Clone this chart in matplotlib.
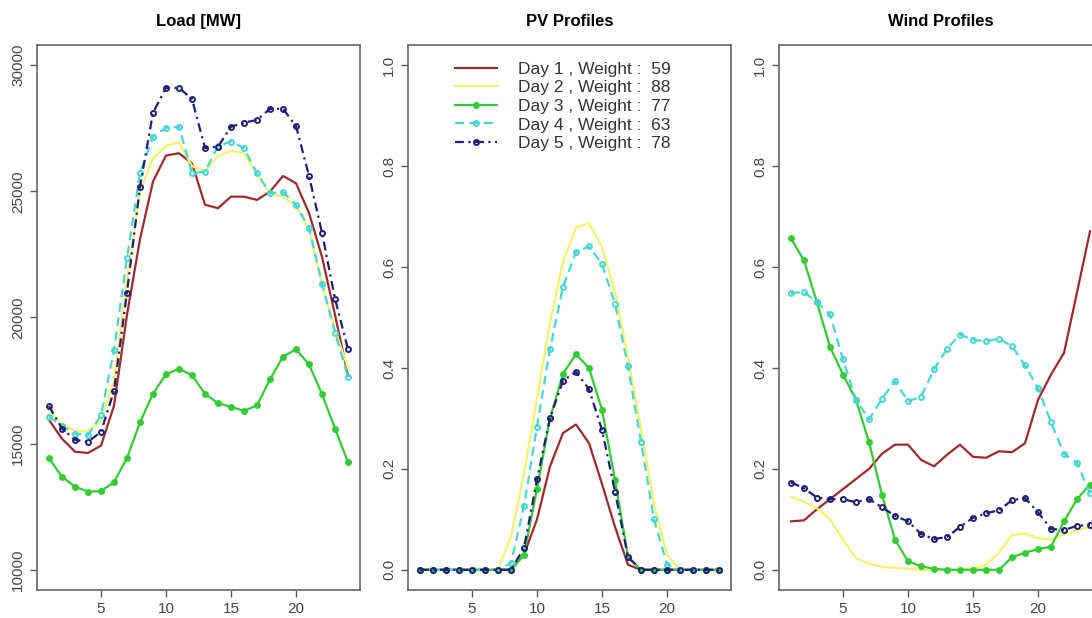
import numpy as np
import matplotlib.pyplot as plt

plt.rcParams['font.family'] = ['Liberation Sans', 'DejaVu Sans']

hours = np.arange(1, 25)
day_labels = ['Day 1 , Weight :  59', 'Day 2 , Weight :  88', 'Day 3 , Weight :  77',
              'Day 4 , Weight :  63', 'Day 5 , Weight :  78']

# Load [MW]
load_d1 = [15940, 15200, 14680, 14630, 14920, 16500, 20100, 23100, 25390, 26420, 26510, 26110,
           24470, 24330, 24790, 24790, 24660, 24990, 25610, 25320, 24140, 22400, 20100, 17700]
load_d2 = [16300, 15800, 15500, 15500, 15900, 17500, 21500, 25000, 26300, 26800, 26950, 26000,
           25800, 26400, 26600, 26500, 25700, 24900, 24800, 24400, 23500, 21300, 19500, 18000]
load_d3 = [14420, 13690, 13300, 13100, 13120, 13470, 14430, 15840, 16980, 17750, 17970, 17710,
           16980, 16600, 16460, 16300, 16520, 17550, 18450, 18740, 18140, 16960, 15600, 14260]
load_d4 = [16075, 15700, 15400, 15330, 16120, 18710, 22360, 25720, 27170, 27520, 27560, 25720,
           25780, 26800, 26970, 26710, 25720, 24930, 24970, 24470, 23550, 21340, 19400, 17650]
load_d5 = [16494, 15600, 15150, 15070, 15470, 17090, 20990, 25180, 28115, 29100, 29100, 28660,
           26720, 26770, 27560, 27720, 27830, 28270, 28270, 27590, 25610, 23350, 20740, 18735]

# PV profiles
pv_d1 = [0, 0, 0, 0, 0, 0, 0, 0, 0.03, 0.10, 0.205, 0.271, 0.288, 0.251, 0.17, 0.085,
         0.01, 0, 0, 0, 0, 0, 0, 0]
pv_d2 = [0, 0, 0, 0, 0, 0, 0, 0.066, 0.19, 0.34, 0.49, 0.61, 0.678, 0.687, 0.64, 0.55,
         0.42, 0.28, 0.13, 0.03, 0, 0, 0, 0]
pv_d3 = [0, 0, 0, 0, 0, 0, 0, 0, 0.03, 0.16, 0.30, 0.389, 0.427, 0.40, 0.317, 0.178,
         0.026, 0, 0, 0, 0, 0, 0, 0]
pv_d4 = [0, 0, 0, 0, 0, 0, 0, 0.013, 0.126, 0.284, 0.437, 0.561, 0.630, 0.641, 0.606, 0.527,
         0.403, 0.253, 0.10, 0.01, 0, 0, 0, 0]
pv_d5 = [0, 0, 0, 0, 0, 0, 0, 0, 0.043, 0.179, 0.301, 0.375, 0.392, 0.358, 0.277, 0.155,
         0.025, 0, 0, 0, 0, 0, 0, 0]

# Wind profiles
wind_d1 = [0.096, 0.098, 0.12, 0.14, 0.16, 0.18, 0.20, 0.23, 0.248, 0.248, 0.218, 0.205,
           0.228, 0.248, 0.224, 0.222, 0.235, 0.233, 0.251, 0.337, 0.387, 0.43, 0.55, 0.671]
wind_d2 = [0.145, 0.135, 0.122, 0.10, 0.06, 0.023, 0.012, 0.006, 0.004, 0.002, 0.0, 0.0,
           0.0, 0.0, 0.003, 0.01, 0.034, 0.069, 0.072, 0.063, 0.06, 0.07, 0.078, 0.085]
wind_d3 = [0.657, 0.613, 0.53, 0.442, 0.387, 0.337, 0.253, 0.149, 0.06, 0.017, 0.007, 0.002,
           0, 0, 0, 0, 0, 0.025, 0.034, 0.041, 0.046, 0.096, 0.14, 0.169]
wind_d4 = [0.548, 0.551, 0.53, 0.506, 0.417, 0.337, 0.298, 0.339, 0.374, 0.334, 0.343, 0.397,
           0.438, 0.466, 0.456, 0.453, 0.458, 0.443, 0.405, 0.36, 0.292, 0.23, 0.212, 0.152]
wind_d5 = [0.173, 0.162, 0.143, 0.14, 0.14, 0.134, 0.14, 0.124, 0.107, 0.096, 0.071, 0.061,
           0.065, 0.085, 0.103, 0.112, 0.118, 0.138, 0.142, 0.114, 0.081, 0.079, 0.087, 0.089]

colors = ['#a3282b', '#f5f26a', '#33cc33', '#45d6d6', '#1f1f7a']
styles = [dict(ls='-', marker=None),
          dict(ls='-', marker=None),
          dict(ls='-', marker='o', ms=4),
          dict(ls=(0, (4, 2.5)), marker='o', ms=3.6, mfc='none', mew=1.4),
          dict(ls=(0, (4, 2, 1, 2)), marker='o', ms=3.6, mfc='none', mew=1.4)]

fig = plt.figure(figsize=(10.92, 6.18), dpi=100)
W, H = 1092, 618
aw, ab, ah = 323 / W, 1 - 590 / H, 545 / H
lefts = [37 / W, 408 / W, 779 / W]
titles = ['Load [MW]', 'PV Profiles', 'Wind Profiles']
panels = [[load_d1, load_d2, load_d3, load_d4, load_d5],
          [pv_d1, pv_d2, pv_d3, pv_d4, pv_d5],
          [wind_d1, wind_d2, wind_d3, wind_d4, wind_d5]]

for i, (l, title, series) in enumerate(zip(lefts, titles, panels)):
    ax = fig.add_axes([l, ab, aw, ah])
    for ys, c, st, lab in zip(series, colors, styles, day_labels):
        ax.plot(hours, ys, color=c, lw=1.6, label=lab, **st)
    ax.set_xlim(1 - 0.92, 24 + 0.92)
    if i == 0:
        ax.set_ylim(10000 - 800, 30000 + 800)
        ax.set_yticks([10000, 15000, 20000, 25000, 30000])
    else:
        ax.set_ylim(-0.04, 1.04)
        ax.set_yticks([0.0, 0.2, 0.4, 0.6, 0.8, 1.0])
        ax.set_yticklabels(['0.0', '0.2', '0.4', '0.6', '0.8', '1.0'])
    ax.set_xticks([5, 10, 15, 20])
    ax.tick_params(axis='both', direction='out', length=5, width=1, color='#555555',
                   labelsize=11, labelcolor='#444444')
    for lb in ax.get_yticklabels():
        lb.set_rotation(90)
        lb.set_va('center')
    for s in ax.spines.values():
        s.set_color('#666666')
        s.set_linewidth(1.2)
    ax.set_title(title, fontsize=12, fontweight='bold', pad=14)
    if i == 1:
        ax.legend(loc='upper left', bbox_to_anchor=(0.095, 1.0), frameon=False,
                  fontsize=12.5, handlelength=2.4, handletextpad=1.2, labelspacing=0.2,
                  labelcolor='#333333', borderaxespad=0.55)

fig.savefig('out.png', dpi=100)
